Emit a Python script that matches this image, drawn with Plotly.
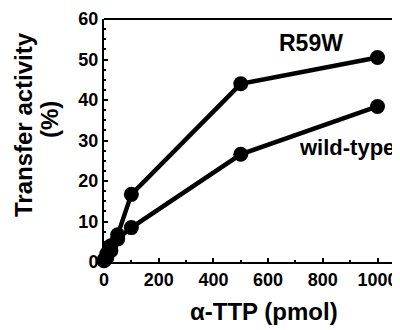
import plotly.graph_objects as go

dose = [0, 10, 25, 50, 100, 500, 1000]
r59w = [0.5, 2.0, 4.0, 6.7, 16.7, 44.0, 50.5]
wild = [0.3, 1.0, 2.8, 5.7, 8.5, 26.6, 38.4]
xticks = [0, 200, 400, 600, 800, 1000]
yticks = [0, 10, 20, 30, 40, 50, 60]

FONT = "Liberation Sans, Arial, sans-serif"
OFF = 8  # default page body margin
W, H = 400 - OFF, 330 - OFF
L, T, B = 104 - OFF, 19 - OFF, 330 - 262
PW, PH = W - L, H - T - B

fig = go.Figure()
for ys in (r59w, wild):
    fig.add_trace(go.Scatter(
        x=dose, y=ys, mode="lines+markers",
        line=dict(color="black", width=4.5),
        marker=dict(color="black", size=15),
        cliponaxis=False, showlegend=False,
    ))

fig.add_annotation(x=756, y=54, text="R59W", showarrow=False,
                   font=dict(family=FONT, size=23, color="black", weight="bold"))
fig.add_annotation(x=706, y=28.3, text="wild-type", showarrow=False, xanchor="left",
                   font=dict(family=FONT, size=22, color="black", weight="bold"))

# axis titles (positions relative to the plot area)
tf = dict(family=FONT, size=24, color="black", weight="bold")
fig.add_annotation(xref="paper", yref="paper", x=0, y=(262 - 125) / PH,
                   xshift=23 - 104, textangle=-90, text="Transfer activity",
                   showarrow=False, font=tf, yanchor="middle", xanchor="center")
fig.add_annotation(xref="paper", yref="paper", x=0, y=(262 - 120) / PH,
                   xshift=49 - 104, textangle=-90, text="(%)",
                   showarrow=False, font=tf, yanchor="middle", xanchor="center")
fig.add_annotation(xref="paper", yref="paper", x=(264 - 104) / PW, y=0,
                   yshift=-(311 - 262), text="α-TTP (pmol)",
                   showarrow=False, font=tf, yanchor="middle", xanchor="center")

# top border line
fig.add_shape(type="line", xref="paper", yref="paper", x0=0, x1=1, y0=1, y1=1,
              line=dict(color="black", width=2))

tickf = dict(size=18, weight="bold", family=FONT, color="black")
fig.update_layout(
    width=W, height=H,
    margin=dict(l=L, r=0, t=T, b=B),
    paper_bgcolor="white", plot_bgcolor="white",
    font=dict(family=FONT, color="black"),
    xaxis=dict(range=[0, PW / 0.2735], tickvals=xticks,
               ticktext=[f"<b>{v}</b>" for v in xticks],
               ticks="inside", ticklen=4, tickwidth=1.5, tickcolor="black",
               minor=dict(dtick=100, ticks="inside", ticklen=2, tickcolor="black"),
               showline=True, linecolor="black", linewidth=2, showgrid=False,
               zeroline=False, automargin=False, tickfont=tickf),
    yaxis=dict(range=[0, 60], tickvals=yticks,
               ticktext=[f"<b>{v}</b>" for v in yticks],
               ticks="inside", ticklen=4, tickwidth=1.5, tickcolor="black",
               minor=dict(dtick=2.5, ticks="inside", ticklen=2, tickcolor="black"),
               showline=True, linecolor="black", linewidth=2, showgrid=False,
               zeroline=False, automargin=False, tickfont=tickf),
)

fig.write_html("out.html")
